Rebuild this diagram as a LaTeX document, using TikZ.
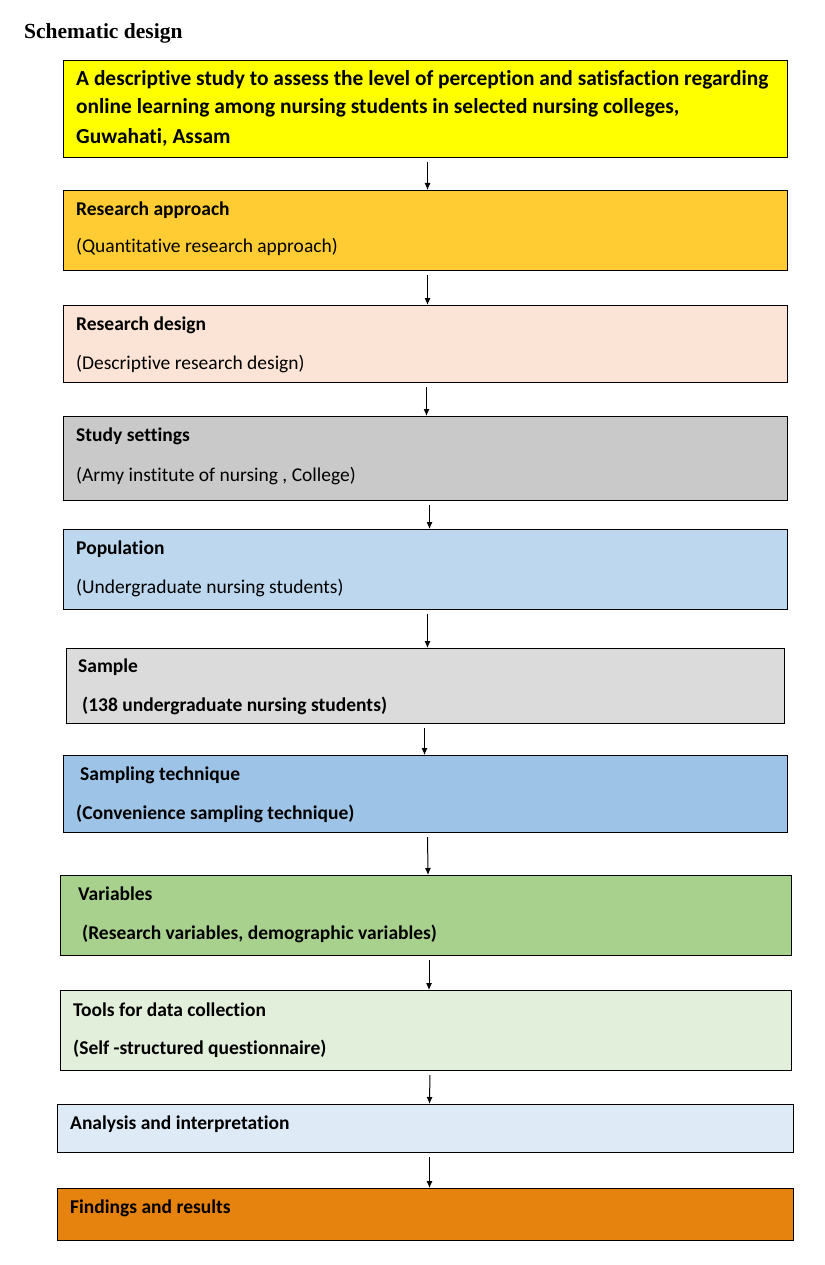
\documentclass[tikz,border=0pt]{standalone}
\usepackage{fontspec}
\setmainfont{Carlito}[Ligatures=NoCommon]
\newfontfamily\titlefont{Liberation Serif}
\usetikzlibrary{arrows.meta}
\begin{document}
\begin{tikzpicture}[x=1pt,y=-1pt,
  bx/.style={draw=black,line width=1pt},
  tx/.style={anchor=west,inner sep=0pt},
  arr/.style={-{Latex[length=7pt,width=6pt]},line width=1pt,shorten <=4pt}]
\useasboundingbox (0,0) rectangle (824,1265);
\node[anchor=west,inner sep=0pt,font=\titlefont\bfseries\fontsize{21.5}{24}\selectfont] (title) at (24,33) {Schematic design};
\definecolor{c1}{HTML}{FFFF00}\definecolor{c2}{HTML}{FFCD33}\definecolor{c3}{HTML}{FBE4D5}
\definecolor{c4}{HTML}{C9C9C9}\definecolor{c5}{HTML}{BDD7EE}\definecolor{c6}{HTML}{DBDBDB}
\definecolor{c7}{HTML}{9DC3E6}\definecolor{c8}{HTML}{A9D18E}\definecolor{c9}{HTML}{E2EFDA}
\definecolor{c10}{HTML}{DEEBF7}\definecolor{c11}{HTML}{E6820E}
\tikzset{B/.style={tx,font=\bfseries\fontsize{19.5}{22}\selectfont},
         R/.style={tx,font=\fontsize{19.5}{22}\selectfont}}
\node[bx,fill=c1,minimum width=724,minimum height=97,anchor=north west] (b1) at (63,60) {};
\node[bx,fill=c2,minimum width=724,minimum height=80,anchor=north west] (b2) at (63,190) {};
\node[bx,fill=c3,minimum width=724,minimum height=77,anchor=north west] (b3) at (63,305) {};
\node[bx,fill=c4,minimum width=724,minimum height=84,anchor=north west] (b4) at (63,416) {};
\node[bx,fill=c5,minimum width=724,minimum height=80,anchor=north west] (b5) at (63,529) {};
\node[bx,fill=c6,minimum width=718,minimum height=75,anchor=north west] (b6) at (66,648) {};
\node[bx,fill=c7,minimum width=724,minimum height=77,anchor=north west] (b7) at (63,755) {};
\node[bx,fill=c8,minimum width=731,minimum height=80,anchor=north west] (b8) at (60,875) {};
\node[bx,fill=c9,minimum width=731,minimum height=80,anchor=north west] (b9) at (60,990) {};
\node[bx,fill=c10,minimum width=736,minimum height=48,anchor=north west] (b10) at (57,1104) {};
\node[bx,fill=c11,minimum width=736,minimum height=52,anchor=north west] (b11) at (57,1188) {};
\node[tx,font=\bfseries\fontsize{21.4}{24}\selectfont] (t1a) at (76,80) {A descriptive study to assess the level of perception and satisfaction regarding};
\node[tx,font=\bfseries\fontsize{21.4}{24}\selectfont] (t1b) at (76,108) {online learning among nursing students in selected nursing colleges,};
\node[tx,font=\bfseries\fontsize{21.4}{24}\selectfont] (t1c) at (76,137) {Guwahati, Assam};
\node[B] (t2a) at (76,210) {Research approach};
\node[R] (t2b) at (76,247) {(Quantitative research approach)};
\node[B] (t3a) at (76,325) {Research design};
\node[R] (t3b) at (76,364) {(Descriptive research design)};
\node[B] (t4a) at (76,436) {Study settings};
\node[R] (t4b) at (76,476) {(Army institute of nursing , College)};
\node[B] (t5a) at (76,549) {Population};
\node[R] (t5b) at (76,588) {(Undergraduate nursing students)};
\node[B] (t6a) at (78,667) {Sample};
\node[B] (t6b) at (82,706) {(138 undergraduate nursing students)};
\node[B] (t7a) at (80,775) {Sampling technique};
\node[B] (t7b) at (76,814) {(Convenience sampling technique)};
\node[B] (t8a) at (78,894) {Variables};
\node[B] (t8b) at (82,934) {(Research variables, demographic variables)};
\node[B] (t9a) at (73,1010) {Tools for data collection};
\node[B] (t9b) at (73,1049) {(Self -structured questionnaire)};
\node[B] (t10) at (70,1124) {Analysis and interpretation};
\node[B] (t11) at (70,1208) {Findings and results};
\draw[arr] ([xshift=2pt]b1.south) -- ([xshift=2pt]b2.north);
\draw[arr] ([xshift=2pt]b2.south) -- ([xshift=2pt]b3.north);
\draw[arr] ([xshift=1pt]b3.south) -- ([xshift=1pt]b4.north);
\draw[arr] ([xshift=4pt]b4.south) -- ([xshift=4pt]b5.north);
\draw[arr] ([xshift=2pt]b5.south) -- ([xshift=2pt]b6.north);
\draw[arr] ([xshift=-1pt]b6.south) -- ([xshift=-1pt]b7.north);
\draw[arr] ([xshift=2pt]b7.south) -- ([xshift=2pt]b8.north);
\draw[arr] ([xshift=3pt]b8.south) -- ([xshift=3pt]b9.north);
\draw[arr] ([xshift=4pt]b9.south) -- ([xshift=4pt]b10.north);
\draw[arr] ([xshift=4pt]b10.south) -- ([xshift=4pt]b11.north);
\end{tikzpicture}
\end{document}
